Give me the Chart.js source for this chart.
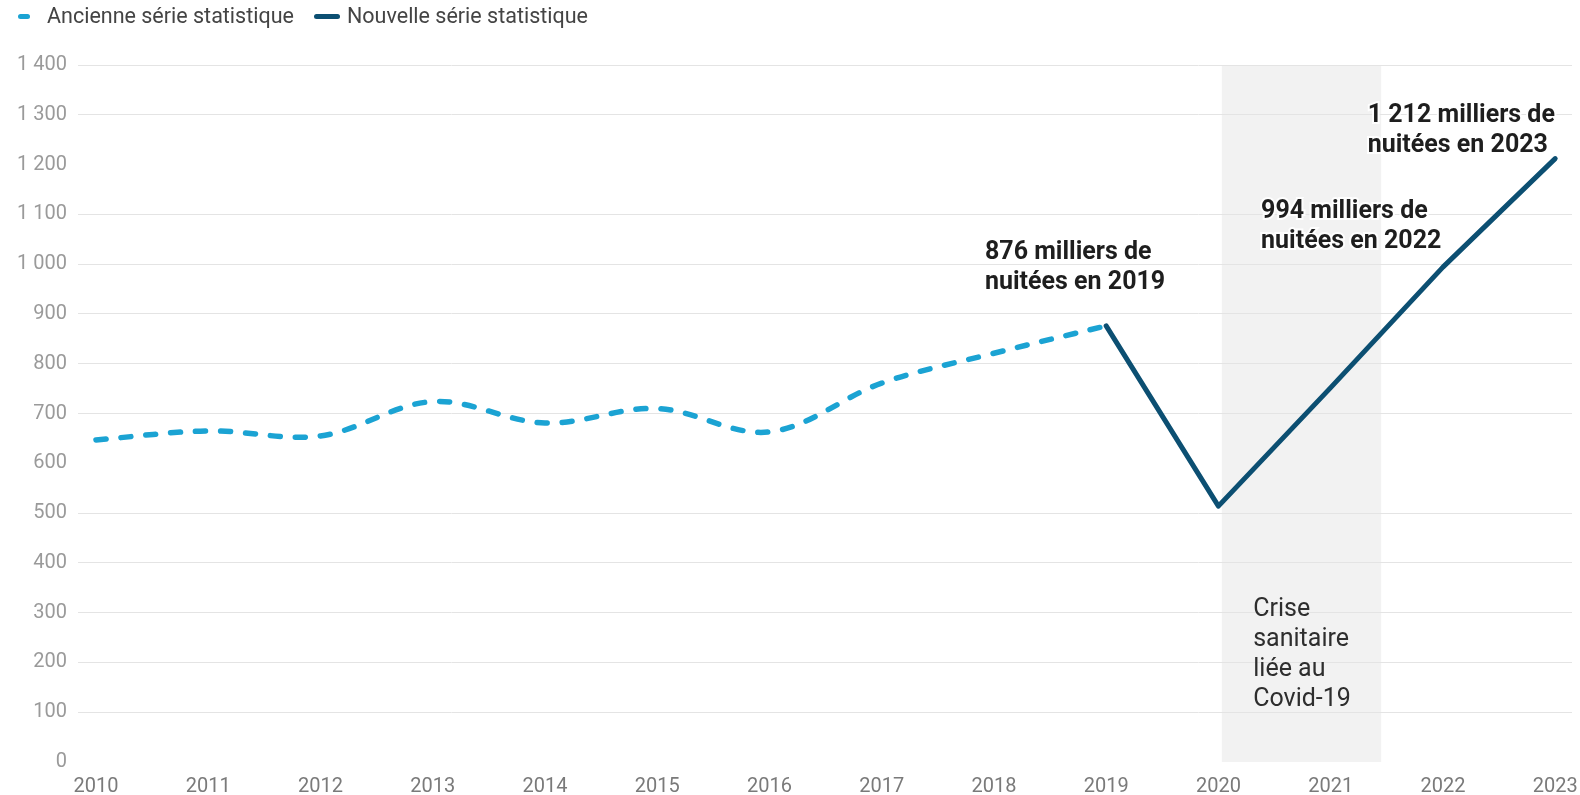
<!DOCTYPE html>
<html lang="fr">
<head>
<meta charset="utf-8">
<script src="https://cdn.jsdelivr.net/npm/chart.js@4"></script>
<style>
  html, body { margin: 0; padding: 0; background: #fff; }
  #wrap { position: relative; width: 1580px; height: 795px; }
  #legend { position: absolute; left: 0; top: 0; width: 700px; height: 32px; font: 21.5px Roboto, sans-serif; color: #444; }
  #legend .mark { position: absolute; top: 14px; height: 5px; border-radius: 3px; }
  #legend .txt { position: absolute; top: 3px; line-height: 26px; white-space: nowrap; }
</style>
</head>
<body>
<div id="wrap">
  <div id="legend"></div>
  <canvas id="myChart" width="1580" height="795"></canvas>
</div>
<script>
// Years and values (milliers de nuitées)
const years = [2010, 2011, 2012, 2013, 2014, 2015, 2016, 2017, 2018, 2019, 2020, 2021, 2022, 2023];
const ancienneYears = [2010, 2011, 2012, 2013, 2014, 2015, 2016, 2017, 2018, 2019];
const ancienneValues = [647, 665, 655, 724, 681, 710, 663, 761, 821, 876];
const nouvelleYears = [2019, 2020, 2021, 2022, 2023];
const nouvelleValues = [876, 514, 752, 994, 1212];
const yTicks = [0, 100, 200, 300, 400, 500, 600, 700, 800, 900, 1000, 1100, 1200, 1300, 1400];
const seriesNames = ["Ancienne série statistique", "Nouvelle série statistique"];

const colAncienne = "#1ba3d3";
const colNouvelle = "#0c4f72";

// Covid band (in years) and text notes
const band = { from: 2020.03, to: 2021.45 };
const notes = [
  { x: 2017.92, y: 1022, bold: true, lines: ["876 milliers de", "nuitées en 2019"] },
  { x: 2020.38, y: 1106, bold: true, lines: ["994 milliers de", "nuitées en 2022"] },
  { x: 2021.33, y: 1299, bold: true, lines: ["1 212 milliers de", "nuitées en 2023"] },
  { x: 2020.31, y: 305, bold: false, lines: ["Crise", "sanitaire", "liée au", "Covid-19"] },
];

const toPoints = (xs, vs) => xs.map((x, i) => ({ x: x, y: vs[i] }));
const fmt = (v) => String(v).replace(/\B(?=(\d{3})+(?!\d))/g, " ");

// legend (HTML)
const legendEl = document.getElementById("legend");
[
  { name: seriesNames[0], color: colAncienne, markLeft: 18, markWidth: 12, textLeft: 47 },
  { name: seriesNames[1], color: colNouvelle, markLeft: 314, markWidth: 26, textLeft: 347 },
].forEach((it) => {
  const m = document.createElement("span");
  m.className = "mark";
  m.style.background = it.color;
  m.style.left = it.markLeft + "px";
  m.style.width = it.markWidth + "px";
  const t = document.createElement("span");
  t.className = "txt";
  t.style.left = it.textLeft + "px";
  t.textContent = it.name;
  legendEl.appendChild(m);
  legendEl.appendChild(t);
});

const bandPlugin = {
  id: "band",
  beforeDraw(chart) {
    const { ctx, scales: { x, y } } = chart;
    const x0 = x.getPixelForValue(band.from);
    const x1 = x.getPixelForValue(band.to);
    const y0 = y.getPixelForValue(1400);
    const y1 = y.getPixelForValue(0);
    ctx.save();
    ctx.fillStyle = "#f2f2f2";
    ctx.fillRect(x0, y0, x1 - x0, y1 - y0);
    ctx.restore();
  },
};

const notesPlugin = {
  id: "notes",
  afterDatasetsDraw(chart) {
    const { ctx, scales: { x, y } } = chart;
    ctx.save();
    ctx.textAlign = "left";
    ctx.textBaseline = "middle";
    notes.forEach((n) => {
      ctx.font = (n.bold ? "bold " : "") + "25px Roboto";
      ctx.fillStyle = n.bold ? "#1e1e1e" : "#2e2e2e";
      const px = x.getPixelForValue(n.x);
      const py = y.getPixelForValue(n.y);
      n.lines.forEach((t, i) => {
        if (n.bold) {
          ctx.lineWidth = 4;
          ctx.strokeStyle = "rgba(255,255,255,0.9)";
          ctx.strokeText(t, px, py + i * 30);
        }
        ctx.fillText(t, px, py + i * 30);
      });
    });
    ctx.restore();
  },
};

const chrt = document.getElementById("myChart");
new Chart(chrt, {
  type: "line",
  data: {
    datasets: [
      {
        label: seriesNames[0],
        data: toPoints(ancienneYears, ancienneValues),
        borderColor: colAncienne,
        borderWidth: 5.5,
        borderDash: [10, 15],
        borderCapStyle: "round",
        borderJoinStyle: "round",
        tension: 0.35,
        pointRadius: 0,
      },
      {
        label: seriesNames[1],
        data: toPoints(nouvelleYears, nouvelleValues),
        borderColor: colNouvelle,
        borderWidth: 5,
        borderCapStyle: "round",
        borderJoinStyle: "round",
        tension: 0,
        pointRadius: 0,
      },
    ],
  },
  options: {
    responsive: false,
    animation: false,
    layout: { padding: { top: 65, right: 8, left: 0, bottom: 0 } },
    plugins: {
      legend: { display: false },
      tooltip: { enabled: false },
    },
    scales: {
      x: {
        type: "linear",
        min: 2009.84,
        max: 2023.15,
        afterBuildTicks: (scale) => {
          scale.ticks = years.map((v) => ({ value: v }));
        },
        afterFit: (scale) => {
          scale.height = 33;
          scale.paddingLeft = 0;
          scale.paddingRight = 0;
        },
        grid: { display: false },
        border: { display: false },
        ticks: {
          color: "#7a7a7a",
          font: { family: "Roboto", size: 20 },
          padding: 5,
          maxRotation: 0,
          autoSkip: false,
          callback: (v) => String(v),
        },
      },
      y: {
        min: 0,
        max: 1400,
        afterBuildTicks: (scale) => {
          scale.ticks = yTicks.map((v) => ({ value: v }));
        },
        afterFit: (scale) => {
          scale.width = 78;
          scale.paddingTop = 0;
          scale.paddingBottom = 0;
        },
        border: { display: false },
        grid: {
          drawTicks: false,
          color: (c) => ([0, 600, 1200].includes(c.tick.value) ? "rgba(0,0,0,0)" : "#e4e4e4"),
          lineWidth: 1,
        },
        ticks: {
          color: "#9a9a9a",
          font: { family: "Roboto", size: 20 },
          padding: 11,
          callback: (v) => fmt(v),
        },
      },
    },
  },
  plugins: [bandPlugin, notesPlugin],
});
</script>
</body>
</html>
